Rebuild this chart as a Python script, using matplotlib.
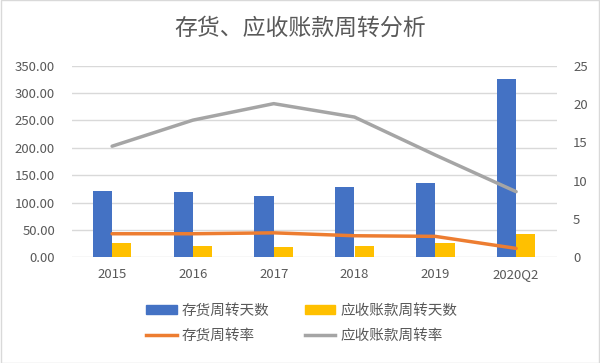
import matplotlib.pyplot as plt
import numpy as np
from matplotlib.patches import Patch
from matplotlib.lines import Line2D

plt.rcParams['font.family'] = ['Noto Sans CJK SC', 'DejaVu Sans']

# 数据
categories = ['2015', '2016', '2017', '2018', '2019', '2020Q2']
inv_days = [121.0, 119.4, 111.5, 128.0, 136.4, 325.4]      # 存货周转天数
ar_days = [25.6, 20.6, 18.8, 20.6, 26.7, 42.6]             # 应收账款周转天数
inv_rate = [3.08, 3.08, 3.20, 2.82, 2.74, 1.17]            # 存货周转率
ar_rate = [14.5, 17.9, 20.05, 18.3, 13.35, 8.57]           # 应收账款周转率

blue = '#4472C4'
yellow = '#FFC000'
orange = '#ED7D31'
gray = '#A5A5A5'
txt = '#595959'

fig = plt.figure(figsize=(6, 3.63), dpi=100)
ax = fig.add_axes([0.1195, 0.291, 0.808, 0.528])
ax2 = ax.twinx()

x = np.arange(len(categories))
w = 0.24
ax.bar(x - w / 2, inv_days, w, color=blue, zorder=3)
ax.bar(x + w / 2, ar_days, w, color=yellow, zorder=3)

ax2.plot(x, inv_rate, color=orange, lw=2.5, solid_capstyle='round', zorder=4)
ax2.plot(x, ar_rate, color=gray, lw=2.5, solid_capstyle='round', zorder=4)

ax.set_xlim(-0.5, len(categories) - 0.5)
ax.set_ylim(0, 350)
ax2.set_ylim(0, 25)
ax.set_yticks(np.arange(0, 351, 50))
ax.set_yticklabels([f'{v:.2f}' for v in np.arange(0, 351, 50)])
ax2.set_yticks(np.arange(0, 26, 5))
ax.set_xticks(x)
ax.set_xticklabels(categories)

ax.yaxis.grid(True, color='#d9d9d9', lw=1, zorder=0)
ax.set_axisbelow(True)
for a in (ax, ax2):
    for s in a.spines.values():
        s.set_visible(False)
    a.tick_params(length=0, colors=txt, labelsize=9.5)
ax.tick_params(axis='x', pad=8)
ax.tick_params(axis='y', pad=12)
ax2.tick_params(axis='y', pad=12)

fig.text(0.5, 0.922, '存货、应收账款周转分析', ha='center', va='center',
         fontsize=16.5, color=txt)

# 图例按列填充：先第一列（天数蓝、周转率橙），再第二列
handles = [Patch(color=blue), Line2D([], [], color=orange, lw=2.5),
           Patch(color=yellow), Line2D([], [], color=gray, lw=2.5)]
labels = ['存货周转天数', '存货周转率', '应收账款周转天数', '应收账款周转率']
fig.legend(handles, labels, ncol=2, loc='center', bbox_to_anchor=(0.503, 0.11),
           frameon=False, fontsize=10.5, labelcolor=txt, handlelength=2.1,
           handleheight=0.5, handletextpad=0.35, columnspacing=2.4,
           labelspacing=0.75)

fig.patches.append(plt.Rectangle((0.001, 0.001), 0.998, 0.998, transform=fig.transFigure,
                                 fill=False, edgecolor='#d9d9d9', lw=1))

fig.savefig('out.png', dpi=100)
